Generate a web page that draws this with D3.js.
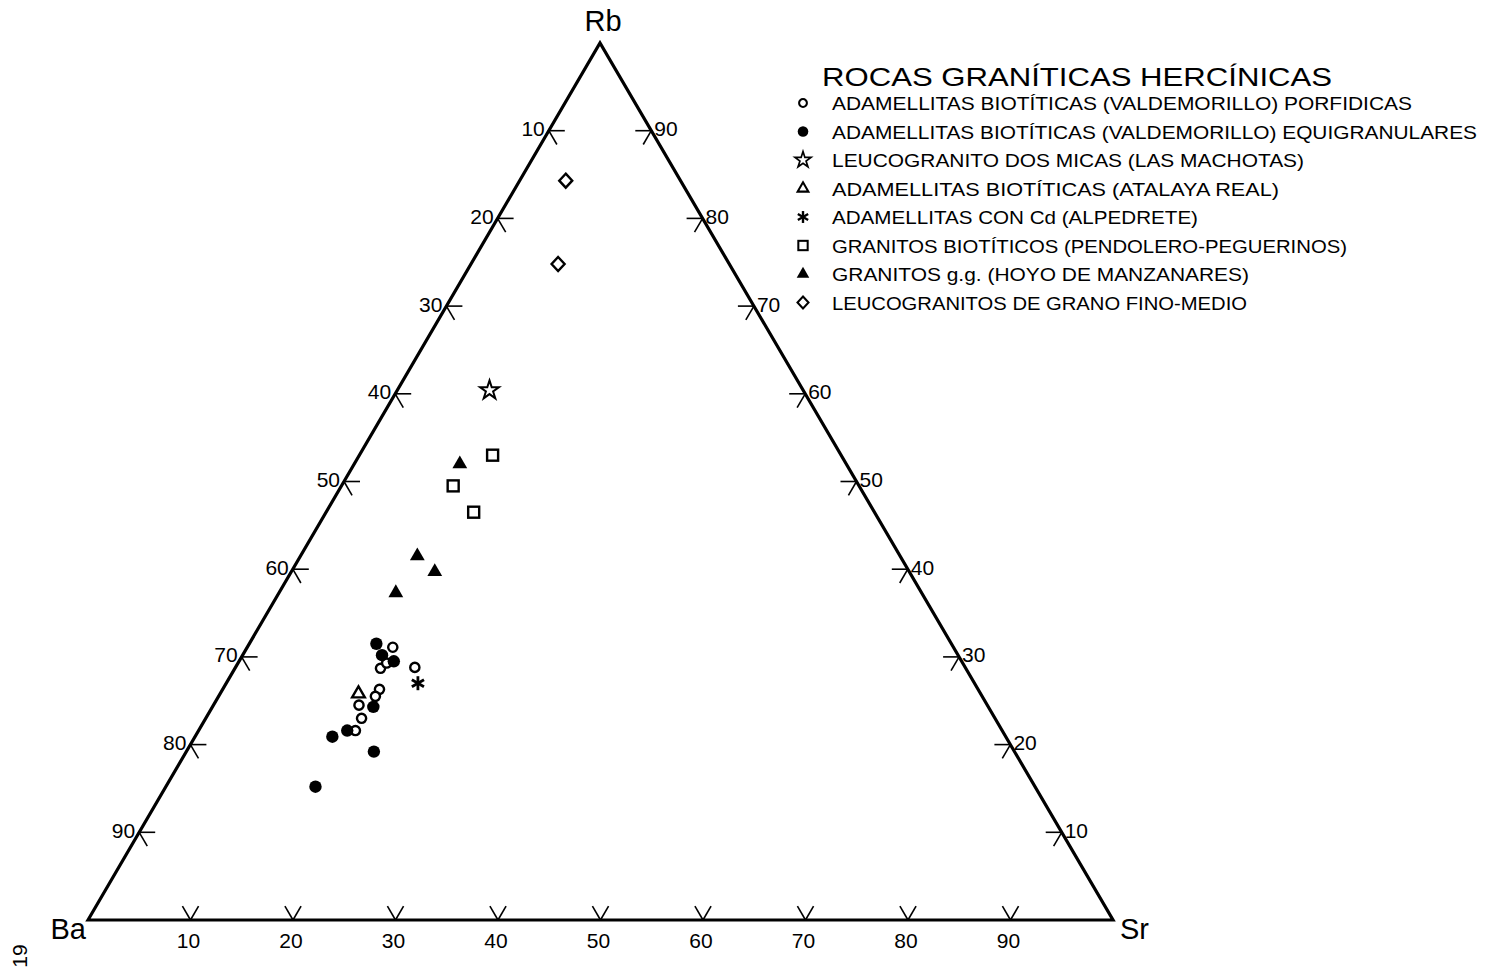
<!DOCTYPE html>
<html><head><meta charset="utf-8">
<script src="https://cdn.jsdelivr.net/npm/d3@7"></script>
<style>body{margin:0;background:#fff}svg{display:block}text{font-family:"Liberation Sans",Arial,sans-serif;fill:#000}</style>
</head><body><svg id="c" width="1493" height="967"></svg>
<script>
// ---- data (percentages: Rb, Ba, Sr) ----
const vertexLabels = ["Rb", "Ba", "Sr"];
const tickValues = [10, 20, 30, 40, 50, 60, 70, 80, 90];
const title = "ROCAS GRANÍTICAS HERCÍNICAS";
const groupNames = [
  "ADAMELLITAS BIOTÍTICAS (VALDEMORILLO) PORFIDICAS",
  "ADAMELLITAS BIOTÍTICAS (VALDEMORILLO) EQUIGRANULARES",
  "LEUCOGRANITO DOS MICAS (LAS MACHOTAS)",
  "ADAMELLITAS BIOTÍTICAS (ATALAYA REAL)",
  "ADAMELLITAS CON Cd (ALPEDRETE)",
  "GRANITOS BIOTÍTICOS  (PENDOLERO-PEGUERINOS)",
  "GRANITOS g.g. (HOYO DE MANZANARES)",
  "LEUCOGRANITOS DE GRANO FINO-MEDIO"
];
const groupSymbols = ["openCircle","filledCircle","star","openTriangle","asterisk","square","filledTriangle","diamond"];
// each point: [Rb, Ba, Sr]
const porfidicas = [[31.1,54.7,14.2],[28.8,53.7,17.5],[28.7,57.1,14.2],[29.3,56.2,14.5],[26.3,58.4,15.3],[25.5,59.2,15.3],[24.5,61.3,14.2],[23.0,61.8,15.2],[21.6,63.1,15.3]];
const equigranulares = [[31.5,56.1,12.4],[30.2,56.2,13.6],[29.5,55.4,15.1],[24.3,60.0,15.7],[21.6,63.9,14.5],[20.9,65.7,13.4],[19.2,62.5,18.3],[15.2,70.2,14.6]];
const machotas = [[60.4,30.6,9.0]];
const atalaya = [[25.8,60.7,13.5]];
const alpedrete = [[27.0,54.3,18.7]];
const pendolero = [[53.0,34.0,13.0],[49.5,39.6,10.9],[46.5,39.1,14.4]];
const hoyo = [[52.0,37.7,10.3],[41.5,47.1,11.4],[39.7,46.3,14.0],[37.3,51.3,11.4]];
const leucogranitos = [[84.3,11.2,4.5],[74.8,16.7,8.5]];
const groupData = [porfidicas, equigranulares, machotas, atalaya, alpedrete, pendolero, hoyo, leucogranitos];

// ---- layout ----
const svg = d3.select("#c");
const P = { Rb:[600,43], Ba:[88,920], Sr:[1113,920] };
const sx = d3.scaleLinear().domain([0,100]).range([0,1]);
function pt(rb, ba, sr){
  const a = sx(rb), b = sx(ba), c = sx(sr), s = a+b+c;
  return [(a*P.Rb[0]+b*P.Ba[0]+c*P.Sr[0])/s, (a*P.Rb[1]+b*P.Ba[1]+c*P.Sr[1])/s];
}
const line = d3.line();

// triangle
svg.append("path").attr("d", line([P.Ba,P.Rb,P.Sr])+"Z")
  .attr("fill","none").attr("stroke","#000").attr("stroke-width",3.2).attr("stroke-linejoin","miter");

const L = 16;
function unit(a,b){const dx=b[0]-a[0],dy=b[1]-a[1],n=Math.hypot(dx,dy);return [dx/n,dy/n];}
const dirH = [1,0];
const dirLeftEdgeUp = unit(P.Ba,P.Rb);   // constant Sr direction
const dirRightEdgeDown = unit(P.Rb,P.Sr); // constant Ba direction
const g = svg.append("g").attr("stroke","#000").attr("stroke-width",1.6).attr("fill","none");
function stub(p, d, sgn){ g.append("path").attr("d", line([p,[p[0]+sgn*d[0]*L,p[1]+sgn*d[1]*L]])); }

const tfs = 21;
tickValues.forEach(v=>{
  // left edge: Ba = v, Sr = 0
  let p = pt(100-v, v, 0);
  stub(p, dirH, 1); stub(p, dirRightEdgeDown, 1);
  svg.append("text").attr("x",p[0]-4).attr("y",p[1]).attr("text-anchor","end")
    .attr("dominant-baseline","middle").attr("font-size",tfs).text(v);
  // right edge: Rb = v, Ba = 0
  p = pt(v, 0, 100-v);
  stub(p, dirH, -1); stub(p, dirLeftEdgeUp, -1);
  svg.append("text").attr("x",p[0]+3).attr("y",p[1]).attr("text-anchor","start")
    .attr("dominant-baseline","middle").attr("font-size",tfs).text(v);
  // bottom: Sr = v, Rb = 0
  p = pt(0, 100-v, v);
  stub(p, dirLeftEdgeUp, 1); stub(p, dirRightEdgeDown, -1);
  svg.append("text").attr("x",p[0]-2).attr("y",p[1]+28).attr("text-anchor","middle")
    .attr("font-size",tfs).text(v);
});

// vertex labels
svg.append("text").attr("x",P.Rb[0]+3).attr("y",P.Rb[1]-12).attr("text-anchor","middle").attr("font-size",29).text(vertexLabels[0]);
svg.append("text").attr("x",P.Ba[0]-2).attr("y",P.Ba[1]+19).attr("text-anchor","end").attr("font-size",29).text(vertexLabels[1]);
svg.append("text").attr("x",P.Sr[0]+7).attr("y",P.Sr[1]+19).attr("text-anchor","start").attr("font-size",29).text(vertexLabels[2]);

// symbols
function drawSymbol(sel, type, x, y, s){
  const grp = sel.append("g").attr("transform",`translate(${x},${y})`);
  const sw = 2.4*s;
  if(type==="openCircle") grp.append("circle").attr("r",4.6*s).attr("fill","#fff").attr("stroke","#000").attr("stroke-width",sw);
  else if(type==="filledCircle") grp.append("circle").attr("r",6.2*s).attr("fill","#000");
  else if(type==="square") grp.append("rect").attr("x",-5.5*s).attr("y",-5.5*s).attr("width",11*s).attr("height",11*s).attr("fill","#fff").attr("stroke","#000").attr("stroke-width",sw);
  else if(type==="filledTriangle") grp.append("path").attr("d",d3.symbol(d3.symbolTriangle, 95*s*s)()).attr("fill","#000");
  else if(type==="openTriangle") grp.append("path").attr("d",d3.symbol(d3.symbolTriangle, 70*s*s)()).attr("fill","#fff").attr("stroke","#000").attr("stroke-width",sw);
  else if(type==="diamond") grp.append("path").attr("d",line([[0,-7*s],[6.5*s,0],[0,7*s],[-6.5*s,0]])+"Z").attr("fill","#fff").attr("stroke","#000").attr("stroke-width",sw);
  else if(type==="star") grp.append("path").attr("d",d3.symbol(d3.symbolStar, 110*s*s)()).attr("fill","#fff").attr("stroke","#000").attr("stroke-width",2*s);
  else if(type==="asterisk"){
    const r = 7*s;
    [90,30,150].forEach(a=>{const t=a*Math.PI/180;
      grp.append("line").attr("x1",-r*Math.cos(t)).attr("y1",-r*Math.sin(t)).attr("x2",r*Math.cos(t)).attr("y2",r*Math.sin(t)).attr("stroke","#000").attr("stroke-width",2.8*s);});
  }
}
const pts = svg.append("g");
groupData.forEach((arr,i)=>arr.forEach(d=>{const p=pt(d[0],d[1],d[2]); drawSymbol(pts, groupSymbols[i], p[0], p[1], 1);}));

// legend
svg.append("text").attr("x",822).attr("y",86).attr("font-size",25).attr("textLength",510).attr("lengthAdjust","spacingAndGlyphs").text(title);
const legendEnds = [1412,1477,1304,1279,1198,1347,1249,1247];
groupNames.forEach((n,i)=>{
  const y = 103 + 28.5*i;
  drawSymbol(svg, groupSymbols[i], 803, y, 0.85);
  svg.append("text").attr("x",832).attr("y",y+7).attr("font-size",19)
    .attr("textLength",legendEnds[i]-832).attr("lengthAdjust","spacingAndGlyphs").text(n);
});

// page number
svg.append("text").attr("transform","translate(27,956) rotate(-90)").attr("text-anchor","middle").attr("font-size",21).text("19");
</script></body></html>
